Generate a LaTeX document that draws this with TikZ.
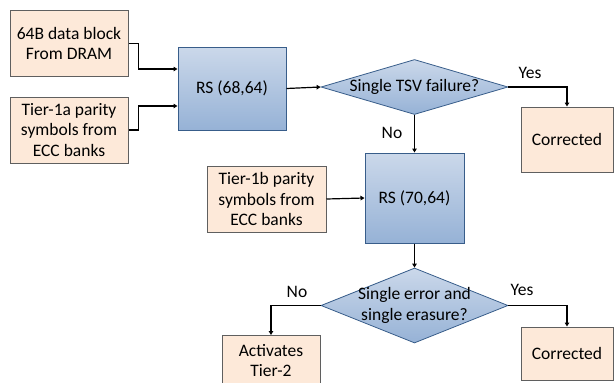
\documentclass[tikz,border=0pt]{standalone}
\usepackage{fontspec}
\setmainfont{Carlito}
\usetikzlibrary{arrows.meta,positioning,shapes.geometric,calc}
\definecolor{peach}{RGB}{253,233,217}
\definecolor{peachline}{RGB}{95,95,95}
\definecolor{steel}{RGB}{56,93,138}
\definecolor{skytop}{RGB}{203,216,234}
\definecolor{skybot}{RGB}{150,178,214}
\definecolor{ink}{RGB}{0,0,0}
\tikzset{
  >={Triangle[length=4pt,width=4.5pt]},
  src/.style={draw=peachline,fill=peach,line width=1pt,align=center,inner sep=0pt,
    minimum width=#1,font=\fontsize{17.5}{20.5}\selectfont},
  src/.default=118pt,
  coder/.style={draw=steel,line width=1pt,top color=skytop,bottom color=skybot,
    inner sep=0pt,font=\fontsize{17.5}{20.5}\selectfont},
  check/.style={diamond,draw=steel,line width=0.8pt,top color=skytop,bottom color=skybot,
    inner sep=0pt,minimum width=187pt,minimum height=#1},
  tag/.style={font=\fontsize{17.5}{20.5}\selectfont,align=center},
  flow/.style={->,line width=1.2pt,draw=ink},
}

\begin{document}
\begin{tikzpicture}[x=1pt,y=-1pt]
  \clip (0,0) rectangle (614,383);
  \useasboundingbox (0,0) rectangle (614,383);

  % first stage
  \node[src,minimum height=66pt] (dram) at (69,43.5) {64B data block\\From DRAM};
  \node[src,minimum height=66pt] (tieraa) at (69,130) {Tier-1a parity\\symbols from\\ECC banks};
  \node[coder,minimum width=108pt,minimum height=83pt] (rsa) at (232,88.5) {RS (68,64)};
  \node[check=55pt,label={[tag]center:Single TSV failure?}] (tsv) at (414.5,87) {};
  \node[src=92pt,minimum height=65pt] (fixa) at (567,139.5) {Corrected};

  % second stage
  \node[coder,minimum width=99pt,minimum height=90pt] (rsb) at (414.5,198) {RS (70,64)};
  \node[src=119pt,minimum height=66pt] (tierab) at (266.5,199) {Tier-1b parity\\symbols from\\ECC banks};
  \node[check=75pt,label={[tag]center:Single error and\\single erasure?}] (sese) at (414.5,305.5) {};
  \node[src=92pt,minimum height=53pt] (fixb) at (567,353.5) {Corrected};
  \node[src=98pt,minimum height=50pt,anchor=north] (tiertwo) at (271,335) {Activates\\Tier-2};

  % connectors
  \draw[flow] (dram.east) -- ++(10,0) |- ([yshift=19.5pt]rsa.west);
  \draw[flow] (tieraa.east) -- ++(10,0) |- ([yshift=-17.5pt]rsa.west);
  \draw[flow] (rsa.east) -- (tsv.west);
  \draw[flow] (tsv.east) -| (fixa.north);
  \draw[flow] (tsv.south) -- (rsb.north);
  \draw[flow] (tierab.east) -- (rsb.west);
  \draw[flow] (rsb.south) -- (sese.north);
  \draw[flow] (sese.east) -| (fixb.north);
  \draw[flow] (sese.west) -| (tiertwo.north);

  % branch labels
  \node[tag] (yesa) at (530,73) {Yes};
  \node[tag] (noa) at (392,133) {No};
  \node[tag] (yesb) at (522,290) {Yes};
  \node[tag] (nob) at (297,292) {No};
\end{tikzpicture}
\end{document}
